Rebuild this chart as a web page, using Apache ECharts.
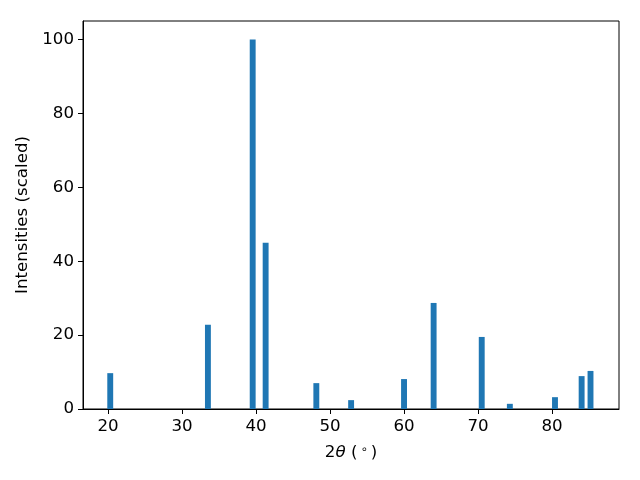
<!DOCTYPE html>
<html>
<head>
<meta charset="utf-8">
<script src="https://cdn.jsdelivr.net/npm/echarts@6/dist/echarts.min.js"></script>
<style>html,body{margin:0;padding:0;background:#fff}#c{width:640px;height:480px}</style>
</head>
<body>
<div id="c"></div>
<script>
var twoTheta = [20.3, 33.5, 39.55, 41.3, 48.15, 52.85, 60.0, 64.0, 70.5, 74.3, 80.4, 84.0, 85.2];
var intensity = [9.7, 22.8, 100, 45.0, 7.0, 2.4, 8.1, 28.7, 19.5, 1.4, 3.2, 8.9, 10.3];
var xTicks = [20, 30, 40, 50, 60, 70, 80];
var yTicks = [0, 20, 40, 60, 80, 100];

var chart = echarts.init(document.getElementById('c'), null, {renderer: 'canvas'});
var font = 'DejaVu Sans';
var fs = 16.67;
chart.setOption({
  animation: false,
  backgroundColor: '#fff',
  grid: {left: 83, right: 21, top: 21, bottom: 71, show: true, borderColor: '#000', borderWidth: 1, backgroundColor: 'transparent'},
  xAxis: {
    type: 'value', min: 16.62, max: 89.05,
    axisLine: {show: true, onZero: false, lineStyle: {color: '#000', width: 1}},
    axisTick: {show: true, length: 5, lineStyle: {color: '#000'}, customValues: xTicks},
    axisLabel: {color: '#000', fontFamily: font, fontSize: fs, margin: 9, customValues: xTicks},
    splitLine: {show: false},
    name: '{a|2}{i|θ}{a| (}{s|∘}{a|)}',
    nameLocation: 'middle', nameGap: 35,
    nameTextStyle: {
      color: '#000', fontFamily: font, fontSize: fs,
      rich: {
        a: {fontFamily: font, fontSize: fs, color: '#000'},
        i: {fontFamily: font, fontSize: fs, fontStyle: 'italic', color: '#000'},
        s: {fontFamily: font, fontSize: 11.5, color: '#000', verticalAlign: 'top', padding: [0, 3, 6, 3]}
      }
    }
  },
  yAxis: {
    type: 'value', min: 0, max: 105,
    axisLine: {show: true, lineStyle: {color: '#000', width: 1}},
    axisTick: {show: true, length: 5, lineStyle: {color: '#000'}, customValues: yTicks},
    axisLabel: {color: '#000', fontFamily: font, fontSize: fs, margin: 9, customValues: yTicks},
    splitLine: {show: false},
    name: 'Intensities (scaled)',
    nameLocation: 'middle', nameGap: 44,
    nameTextStyle: {color: '#000', fontFamily: font, fontSize: fs}
  },
  series: [{
    type: 'bar',
    barWidth: 5.9,
    itemStyle: {color: '#1f77b4'},
    data: twoTheta.map(function (t, i) { return [t, intensity[i]]; })
  }]
});
</script>
</body>
</html>
